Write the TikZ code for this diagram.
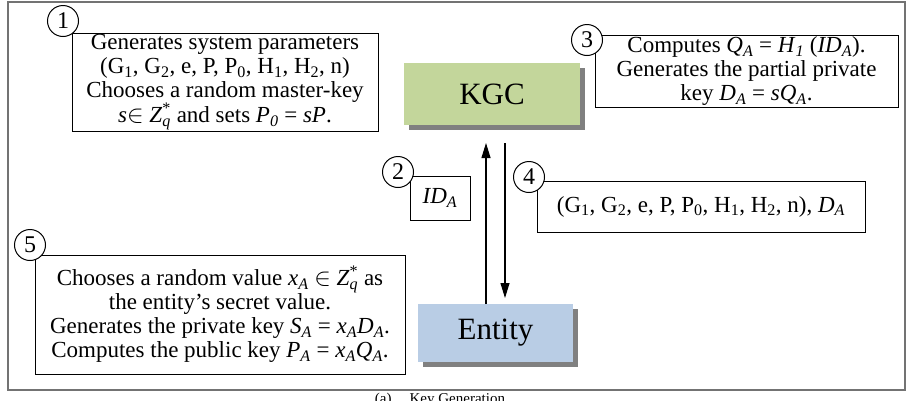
\documentclass[tikz,border=0pt]{standalone}
\usepackage{fontspec}
\setmainfont{Liberation Serif}
\usetikzlibrary{arrows.meta}
\newcommand{\sbs}[1]{\textsubscript{#1}}
\newcommand{\isb}[2]{\textit{#1}\textsubscript{\textit{#2}}}
\newcommand{\Zqs}{\textit{Z}\rlap{\textsuperscript{*}}\textsubscript{\textit{q}}}
\begin{document}
\begin{tikzpicture}[x=1pt,y=-1pt,
  txtbox/.style={draw, line width=1pt, align=center, inner sep=0pt,
    font=\fontsize{23}{24}\selectfont},
  numcirc/.style={draw, circle, fill=white, line width=1pt, minimum size=31pt,
    inner sep=0pt, font=\fontsize{24}{24}\selectfont},
  party/.style={inner sep=0pt, font=\fontsize{31}{31}\selectfont},
  shadowbox/.style={fill=black!50},
  flow/.style={line width=1.1pt, -{Triangle[length=15pt,width=9pt]}},
  frame/.style={draw=black!55, line width=1.2pt}
]
\useasboundingbox (0,0) rectangle (907,400);
\clip (0,0) rectangle (907,400);
\fill[white] (0,0) rectangle (907,400);
\draw[frame] (8,2) rectangle (905,390);

% KGC and Entity
\node[party, fill={rgb,255:red,195;green,214;blue,155}, minimum width=176pt, minimum height=62pt] (kgc) at (492,94) {KGC};
\node[party, fill={rgb,255:red,185;green,205;blue,229}, minimum width=155pt, minimum height=58pt] (ent) at (495.5,333) {Entity};
\fill[shadowbox] ([shift={(5,0)}]kgc.south west) rectangle ([shift={(5,5)}]kgc.south east);
\fill[shadowbox] (kgc.north east) ++(0,5) rectangle ([shift={(5,5)}]kgc.south east);
\fill[shadowbox] ([shift={(5,0)}]ent.south west) rectangle ([shift={(5,5)}]ent.south east);
\fill[shadowbox] (ent.north east) ++(0,5) rectangle ([shift={(5,5)}]ent.south east);

% text boxes
\node[txtbox, minimum width=306pt, minimum height=98pt] (b1) at (225,82)
  {Generates system parameters\\
   (G\sbs{1}, G\sbs{2}, e, P, P\sbs{0}, H\sbs{1}, H\sbs{2}, n)\\
   Chooses a random master-key\\
   \textit{s}$\in$ \Zqs\ and sets \isb{P}{0} = \textit{sP}.};
\node[txtbox, minimum width=303pt, minimum height=72pt] (b3) at (746.5,71)
  {Computes \isb{Q}{A} = \isb{H}{1} (\isb{ID}{A}).\\
   Generates the partial private\\
   key \isb{D}{A} = \textit{s}\isb{Q}{A}.};
\node[txtbox, minimum width=60pt, minimum height=44pt] (b2) at (440,198)
  {\isb{ID}{A}};
\node[txtbox, minimum width=328pt, minimum height=51pt] (b4) at (701,206.5)
  {(G\sbs{1}, G\sbs{2}, e, P, P\sbs{0}, H\sbs{1}, H\sbs{2}, n), \isb{D}{A}};
\node[txtbox, minimum width=370pt, minimum height=119pt] (b5) at (220,314.5)
  {Chooses a random value \isb{x}{A} $\in$ \Zqs\ as\\
   the entity's secret value.\\
   Generates the private key \isb{S}{A} = \isb{x}{A}\isb{D}{A}.\\
   Computes the public key \isb{P}{A} = \isb{x}{A}\isb{Q}{A}.};

% number circles
\node[numcirc] (n1) at (63,21) {1};
\node[numcirc] (n2) at (398,172) {2};
\node[numcirc] (n3) at (587,40) {3};
\node[numcirc] (n4) at (529,177) {4};
\node[numcirc] (n5) at (30,245) {5};

% arrows
\coordinate (upS) at (486,304);
\coordinate (upE) at (486,143);
\coordinate (dnS) at (505,143);
\coordinate (dnE) at (505,298);
\draw[flow] (upS) -- (upE);
\draw[flow] (dnS) -- (dnE);

% caption (cut off at the bottom edge)
\node[font=\fontsize{15}{15}\selectfont, anchor=north, inner sep=0pt] (cap) at (440,393) {(a)\hspace{1.2em}Key Generation};
\end{tikzpicture}
\end{document}
